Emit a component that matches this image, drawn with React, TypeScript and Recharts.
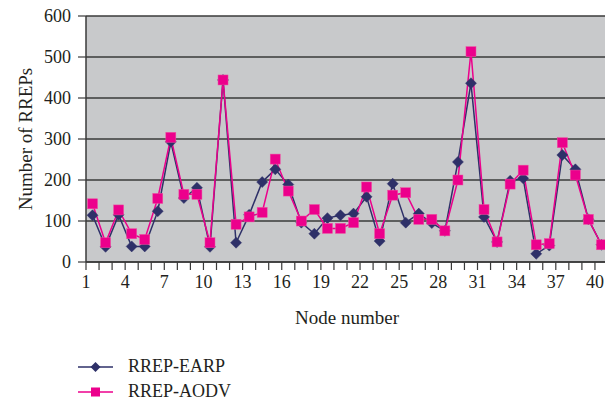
import React from 'react';
import { LineChart, Line, XAxis, YAxis, CartesianGrid, Legend } from 'recharts';

// Node numbers along the x axis
const nodes = [
  1, 2, 3, 4, 5, 6, 7, 8, 9, 10,
  11, 12, 13, 14, 15, 16, 17, 18, 19, 20,
  21, 22, 23, 24, 25, 26, 27, 28, 29, 30,
  31, 32, 33, 34, 35, 36, 37, 38, 39, 40,
];

// RREP counts per node
const rrepEarp = [
  114, 37, 115, 38, 38, 124, 293, 156, 181, 37,
  444, 47, 115, 195, 226, 189, 96, 69, 107, 114,
  118, 159, 51, 191, 96, 118, 95, 76, 244, 436,
  110, 49, 198, 204, 20, 40, 261, 226, 104, 42,
];
const rrepAodv = [
  142, 47, 127, 69, 55, 155, 304, 165, 165, 47,
  444, 92, 110, 121, 251, 173, 100, 128, 82, 82,
  96, 183, 69, 163, 169, 104, 104, 76, 200, 513,
  128, 49, 190, 224, 42, 45, 291, 212, 104, 42,
];

const xTickLabels = ['1', '4', '7', '10', '13', '16', '19', '22', '25', '28', '31', '34', '37', '40'];
const yTicks = [0, 100, 200, 300, 400, 500, 600];

const NAVY = '#2e3068';
const PINK = '#ec008c';
const INK = '#231f20';
const FONT = '"Liberation Serif", "Times New Roman", serif';

const rows = nodes.map((n, i) => ({ node: n, earp: rrepEarp[i], aodv: rrepAodv[i] }));

// tick marks sit on the boundaries between node slots
const boundaries = [...nodes.map((n) => n - 0.5), nodes[nodes.length - 1] + 0.5];
const labelSet = new Set(xTickLabels);

const Diamond = (props: any) => {
  const { cx, cy } = props;
  if (cx == null || cy == null) return <g />;
  const r = 5.5;
  return (
    <polygon
      points={`${cx},${cy - r} ${cx + r},${cy} ${cx},${cy + r} ${cx - r},${cy}`}
      fill={NAVY}
      stroke={NAVY}
      strokeWidth={0.5}
    />
  );
};

const Square = (props: any) => {
  const { cx, cy } = props;
  if (cx == null || cy == null) return <g />;
  const s = 10;
  return <rect x={cx - s / 2} y={cy - s / 2} width={s} height={s} fill={PINK} stroke="#f04ca0" strokeWidth={0.5} />;
};

const XTick = (props: any) => {
  const { x, y, payload } = props;
  const label = String(payload.value + 0.5);
  if (!labelSet.has(label)) return <g />;
  return (
    <text x={x} y={y} dy={16} textAnchor="middle" fill={INK} fontSize={18} fontFamily={FONT}>
      {label}
    </text>
  );
};

const series = [
  { key: 'earp', name: 'RREP-EARP', color: NAVY, marker: 'diamond' },
  { key: 'aodv', name: 'RREP-AODV', color: PINK, marker: 'square' },
];

const LegendBox = () => (
  <div style={{ fontFamily: FONT, fontSize: 18, color: INK }}>
    {series.map((s) => (
      <div key={s.key} style={{ display: 'flex', alignItems: 'center', height: 25 }}>
        <svg width={42} height={16} style={{ marginRight: 8 }}>
          <line x1={0} y1={8} x2={35} y2={8} stroke={s.color} strokeWidth={1.5} />
          {s.marker === 'diamond' ? (
            <polygon points="17.5,3 22.5,8 17.5,13 12.5,8" fill={s.color} />
          ) : (
            <rect x={13} y={3.5} width={9} height={9} fill={s.color} />
          )}
        </svg>
        <span>{s.name}</span>
      </div>
    ))}
  </div>
);

export default function App() {
  return (
    <div
      style={{
        position: 'absolute',
        left: 0,
        top: 0,
        width: 605,
        height: 400,
        overflow: 'hidden',
        background: '#ffffff',
      }}
    >
      <LineChart width={622} height={400} data={rows} margin={{ top: 16, right: 14, bottom: 108, left: 0 }}>
        <CartesianGrid vertical={false} horizontal fill="#c8c9cb" stroke="#3a3a3a" strokeWidth={1.3} />
        <XAxis
          dataKey="node"
          type="number"
          domain={[0.5, 40.5]}
          ticks={boundaries}
          interval={0}
          height={30}
          tickSize={8}
          tickMargin={2}
          tick={<XTick />}
          axisLine={{ stroke: '#3a3a3a', strokeWidth: 1.5 }}
          tickLine={{ stroke: '#3a3a3a', strokeWidth: 1.2 }}
          label={(p: any) => {
            const vb = p.viewBox;
            return (
              <text x={vb.x + vb.width / 2} y={324} textAnchor="middle" fill={INK} fontSize={19} fontFamily={FONT}>
                Node number
              </text>
            );
          }}
        />
        <YAxis
          type="number"
          domain={[0, 600]}
          ticks={yTicks}
          interval={0}
          width={86}
          tickSize={8}
          tickMargin={7}
          tick={{ fill: INK, fontSize: 18, fontFamily: FONT }}
          axisLine={{ stroke: '#3a3a3a', strokeWidth: 1.5 }}
          tickLine={{ stroke: '#3a3a3a', strokeWidth: 1.2 }}
          label={(p: any) => {
            const vb = p.viewBox;
            const cx = vb.x + 25;
            const cy = vb.y + vb.height / 2;
            return (
              <text
                x={cx}
                y={cy}
                transform={`rotate(-90, ${cx}, ${cy})`}
                textAnchor="middle"
                dominantBaseline="central"
                fill={INK}
                fontSize={19}
                fontFamily={FONT}
              >
                Number of RREPs
              </text>
            );
          }}
        />
        <Legend
          layout="vertical"
          align="center"
          verticalAlign="middle"
          wrapperStyle={{ left: 78, top: 354, width: 'auto', height: 'auto' }}
          content={() => <LegendBox />}
        />
        <Line
          type="linear"
          dataKey="earp"
          name="RREP-EARP"
          stroke={NAVY}
          strokeWidth={1.5}
          dot={<Diamond />}
          activeDot={false}
          isAnimationActive={false}
        />
        <Line
          type="linear"
          dataKey="aodv"
          name="RREP-AODV"
          stroke={PINK}
          strokeWidth={1.5}
          dot={<Square />}
          activeDot={false}
          isAnimationActive={false}
        />
      </LineChart>
    </div>
  );
}
